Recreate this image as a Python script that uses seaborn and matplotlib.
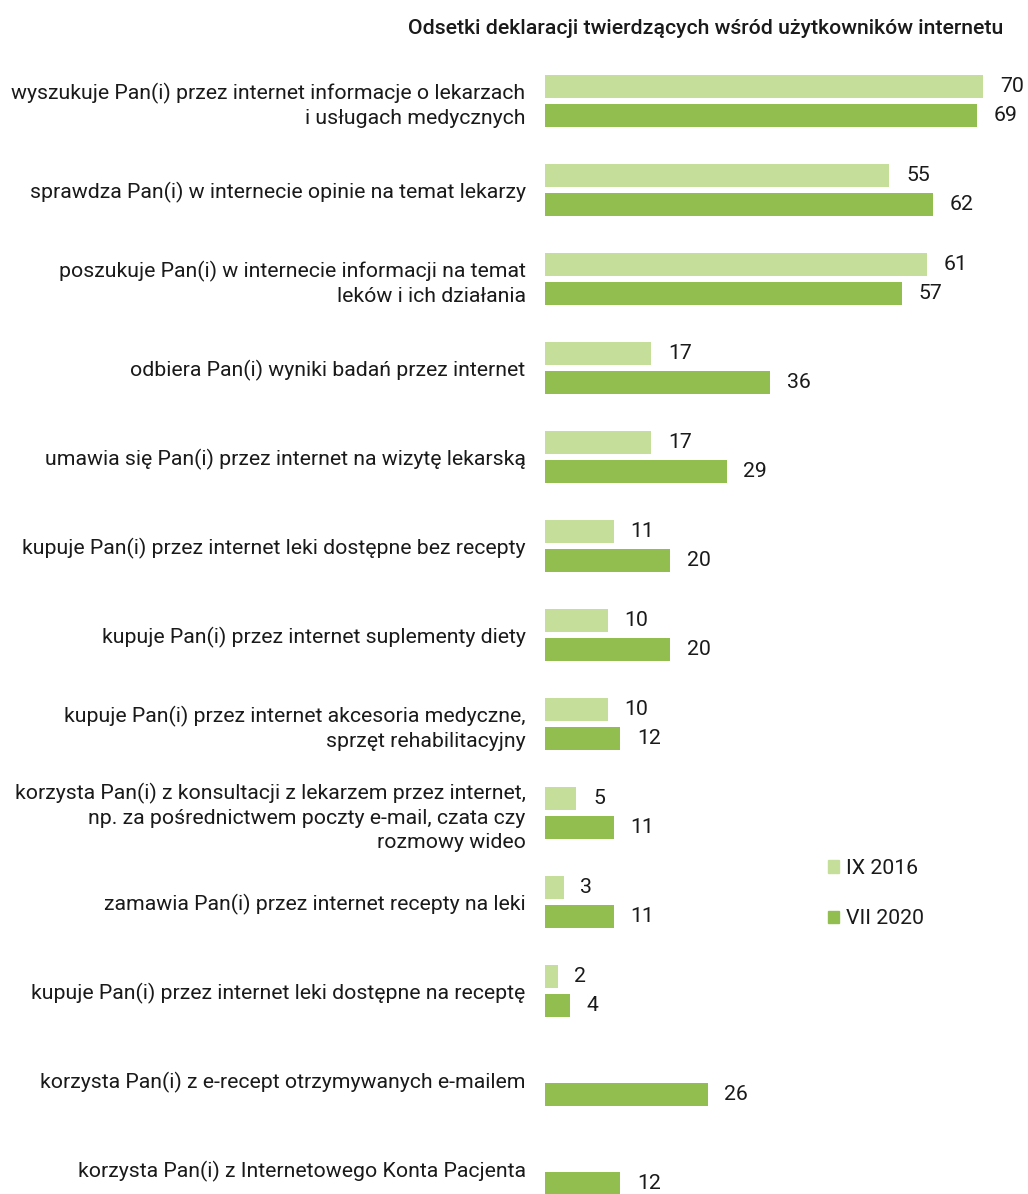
import matplotlib
matplotlib.use('Agg')
import matplotlib.pyplot as plt
import numpy as np
import pandas as pd
import seaborn as sns

categories = [
    'wyszukuje Pan(i) przez internet informacje o lekarzach\ni usługach medycznych',
    'sprawdza Pan(i) w internecie opinie na temat lekarzy',
    'poszukuje Pan(i) w internecie informacji na temat\nleków i ich działania',
    'odbiera Pan(i) wyniki badań przez internet',
    'umawia się Pan(i) przez internet na wizytę lekarską',
    'kupuje Pan(i) przez internet leki dostępne bez recepty',
    'kupuje Pan(i) przez internet suplementy diety',
    'kupuje Pan(i) przez internet akcesoria medyczne,\nsprzęt rehabilitacyjny',
    'korzysta Pan(i) z konsultacji z lekarzem przez internet,\nnp. za pośrednictwem poczty e-mail, czata czy\nrozmowy wideo',
    'zamawia Pan(i) przez internet recepty na leki',
    'kupuje Pan(i) przez internet leki dostępne na receptę',
    'korzysta Pan(i) z e-recept otrzymywanych e-mailem',
    'korzysta Pan(i) z Internetowego Konta Pacjenta',
]
ix_2016 = [70, 55, 61, 17, 17, 11, 10, 10, 5, 3, 2, np.nan, np.nan]
vii_2020 = [69, 62, 57, 36, 29, 20, 20, 12, 11, 11, 4, 26, 12]
series = ['IX 2016', 'VII 2020']
colors = ['#c5df9b', '#92be50']

df = pd.DataFrame({
    'cat': categories * 2,
    'val': ix_2016 + vii_2020,
    'wave': [series[0]] * len(categories) + [series[1]] * len(categories),
})

sns.set_style('white')
plt.rcParams['font.family'] = ['Roboto', 'DejaVu Sans']

W, H = 1028, 1194
fig = plt.figure(figsize=(W / 100, H / 100), dpi=100)
# axes placed in pixel terms: bars start at x=545, first group centre y=101, 89 px per group
ax = fig.add_axes([545 / W, 0, 1 - 545 / W, 1 - 56.5 / H])

sns.barplot(data=df, y='cat', x='val', hue='wave', hue_order=series, palette=colors,
            order=categories, orient='h', width=0.63, gap=0.18, ax=ax, saturation=1,
            edgecolor='none', linewidth=0, errorbar=None)

ax.set_xlim(0, (W - 545) / 6.26)
ax.set_ylim((1194 - 101) / 89, -0.5)
ax.set_xlabel('')
ax.set_ylabel('')
ax.set_xticks([])
sns.despine(ax=ax, left=True, bottom=True)
ax.tick_params(axis='y', length=0, pad=14, labelsize=15.3, labelcolor='#1a1a1a')
for t in ax.get_yticklabels():
    t.set_linespacing(1.32)

for cont in ax.containers:
    ax.bar_label(cont, fmt='%g', padding=12, fontsize=15.3, color='#1a1a1a')

ax.get_legend().remove()
handles = [plt.Rectangle((0, 0), 1, 1, color=c) for c in colors]
fig.legend(handles, series, loc='upper left', bbox_to_anchor=(817 / W, 1 - 848 / H),
           frameon=False, fontsize=15.3, handlelength=0.55, handleheight=0.55,
           handletextpad=0.3, labelspacing=1.5, borderpad=0, labelcolor='#1a1a1a')

fig.text(1003 / W, 1 - 28 / H, 'Odsetki deklaracji twierdzących wśród użytkowników internetu',
         ha='right', va='center', fontsize=15.3, fontweight='medium', color='#1a1a1a')

fig.savefig('out.png', dpi=100)
